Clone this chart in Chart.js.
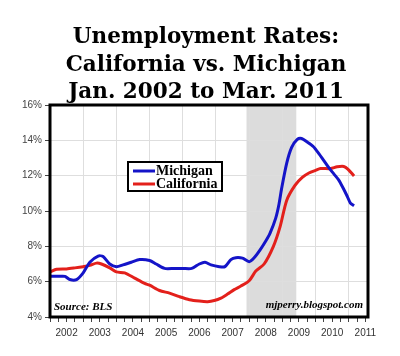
<!DOCTYPE html>
<html>
<head>
<meta charset="utf-8">
<script src="https://cdn.jsdelivr.net/npm/chart.js@4"></script>
<style>
html,body{margin:0;padding:0;background:#fff;}
#wrap{width:400px;height:356px;position:relative;}
</style>
</head>
<body>
<div id="wrap"><canvas id="c" width="400" height="356"></canvas></div>
<script>
// ---- data (decimal year, unemployment %) ----
const titleLines = ["Unemployment Rates:", "California vs. Michigan", "Jan. 2002 to Mar. 2011"];
const seriesNames = ["Michigan", "California"];
const michiganX = [2002.0,2002.25,2002.45,2002.6,2002.8,2003.0,2003.2,2003.45,2003.6,2003.8,2004.0,2004.2,2004.45,2004.7,2005.0,2005.2,2005.45,2005.75,2006.0,2006.27,2006.5,2006.67,2006.85,2007.1,2007.27,2007.45,2007.6,2007.8,2008.0,2008.15,2008.33,2008.5,2008.63,2008.8,2008.9,2008.98,2009.13,2009.28,2009.45,2009.58,2009.75,2009.93,2010.1,2010.25,2010.4,2010.55,2010.7,2010.83,2010.95,2011.05,2011.16];
const michiganY = [6.3,6.3,6.3,6.12,6.12,6.5,7.1,7.45,7.42,7.0,6.85,6.95,7.1,7.25,7.2,7.0,6.75,6.75,6.75,6.75,7.0,7.1,6.95,6.85,6.85,7.25,7.36,7.33,7.13,7.35,7.8,8.3,8.75,9.6,10.4,11.3,12.7,13.6,14.05,14.1,13.9,13.65,13.25,12.85,12.45,12.1,11.75,11.3,10.85,10.45,10.3];
const californiaX = [2002.0,2002.2,2002.5,2002.75,2003.0,2003.2,2003.4,2003.55,2003.8,2004.0,2004.25,2004.55,2004.85,2005.0,2005.3,2005.6,2005.9,2006.2,2006.5,2006.75,2006.95,2007.15,2007.35,2007.55,2007.75,2008.0,2008.2,2008.45,2008.73,2008.93,2009.13,2009.38,2009.6,2009.8,2010.0,2010.15,2010.45,2010.65,2010.85,2010.98,2011.16];
const californiaY = [6.55,6.7,6.72,6.78,6.85,6.92,7.05,7.0,6.78,6.55,6.5,6.2,5.9,5.8,5.5,5.35,5.15,4.98,4.9,4.87,4.93,5.07,5.3,5.55,5.75,6.05,6.6,7.0,8.0,9.1,10.6,11.45,11.9,12.15,12.3,12.4,12.4,12.5,12.52,12.36,11.98];
const recession = [2007.92, 2009.42];
const xMin = 2002.0, xMax = 2011.58;
const yMin = 4, yMax = 16, yStep = 2;
const sourceText = "Source: BLS";
const creditText = "mjperry.blogspot.com";

const toPts = (xs, ys) => xs.map((x, i) => ({x: x, y: ys[i]}));

const BLUE = '#1414c8';
const RED = '#e3201b';

const decor = {
  id: 'decor',
  beforeDraw(chart) {
    const {ctx, chartArea: a, scales} = chart;
    ctx.save();
    ctx.fillStyle = '#fff';
    ctx.fillRect(0, 0, chart.width, chart.height);
    const x0 = scales.x.getPixelForValue(recession[0]);
    const x1 = scales.x.getPixelForValue(recession[1]);
    ctx.fillStyle = '#dcdcdc';
    ctx.fillRect(x0, a.top, x1 - x0, a.bottom - a.top);
    ctx.restore();
  },
  afterDraw(chart) {
    const {ctx, chartArea: a} = chart;
    ctx.save();
    // title
    ctx.fillStyle = '#000';
    ctx.textAlign = 'center';
    ctx.textBaseline = 'alphabetic';
    ctx.font = 'bold 21.5px "DejaVu Serif"';
    const base = [42.5, 70.5, 97.5];
    titleLines.forEach((t, i) => ctx.fillText(t, 206, base[i]));
    // border
    ctx.strokeStyle = '#000';
    ctx.lineWidth = 3;
    ctx.strokeRect(a.left, a.top, a.right - a.left, a.bottom - a.top);
    // source texts
    ctx.font = 'italic bold 11px "Liberation Serif"';
    ctx.textAlign = 'left';
    ctx.fillText(sourceText, a.left + 4, a.bottom - 7);
    ctx.textAlign = 'right';
    ctx.fillText(creditText, a.right - 5, a.bottom - 9);
    // legend
    const lx = 128, ly = 162, lw = 94, lh = 29;
    ctx.fillStyle = '#fff';
    ctx.fillRect(lx, ly, lw, lh);
    ctx.lineWidth = 2;
    ctx.strokeRect(lx, ly, lw, lh);
    const cols = [BLUE, RED];
    const ys = [171, 184];
    ctx.font = 'bold 14px "Liberation Serif"';
    ctx.textAlign = 'left';
    ctx.textBaseline = 'middle';
    seriesNames.forEach((n, i) => {
      ctx.strokeStyle = cols[i];
      ctx.lineWidth = 3;
      ctx.beginPath();
      ctx.moveTo(133, ys[i]);
      ctx.lineTo(155, ys[i]);
      ctx.stroke();
      ctx.fillStyle = '#000';
      ctx.fillText(n, 156, ys[i] + 0.5);
    });
    ctx.restore();
  }
};

const quarterTicks = [];
for (let v = 2002; v <= 2011.5 + 1e-9; v += 0.25) quarterTicks.push(Math.round(v * 100) / 100);

new Chart(document.getElementById('c'), {
  type: 'line',
  data: {
    datasets: [
      {label: seriesNames[0], data: toPts(michiganX, michiganY), borderColor: BLUE, borderWidth: 3, pointRadius: 0, tension: 0.25, fill: false},
      {label: seriesNames[1], data: toPts(californiaX, californiaY), borderColor: RED, borderWidth: 3, pointRadius: 0, tension: 0.25, fill: false}
    ]
  },
  options: {
    responsive: false,
    animation: false,
    layout: {padding: {top: 105, right: 32, bottom: 0, left: 0}},
    plugins: {legend: {display: false}, tooltip: {enabled: false}, title: {display: false}},
    scales: {
      x: {
        type: 'linear', min: xMin, max: xMax,
        afterBuildTicks(s) { s.ticks = quarterTicks.map(v => ({value: v})); },
        afterFit(s) { s.height = 39; },
        grid: {
          color: c => (c.tick && Math.abs(c.tick.value - Math.round(c.tick.value)) < 1e-6) ? '#dedede' : 'rgba(0,0,0,0)',
          tickColor: '#444', tickLength: 5, lineWidth: 1
        },
        border: {display: false},
        ticks: {
          autoSkip: false, maxRotation: 0, padding: 5,
          color: '#333', font: {family: 'Liberation Sans', size: 10},
          callback: v => (Math.abs(v - Math.floor(v) - 0.5) < 1e-6) ? String(Math.floor(v)) : ''
        }
      },
      y: {
        min: yMin, max: yMax,
        afterFit(s) { s.width = 50; },
        grid: {color: '#dedede', tickColor: '#444', tickLength: 5},
        border: {display: false},
        ticks: {stepSize: yStep, padding: 3, color: '#444', font: {family: 'Liberation Sans', size: 10}, callback: v => v + '%'}
      }
    }
  },
  plugins: [decor]
});
</script>
</body>
</html>
